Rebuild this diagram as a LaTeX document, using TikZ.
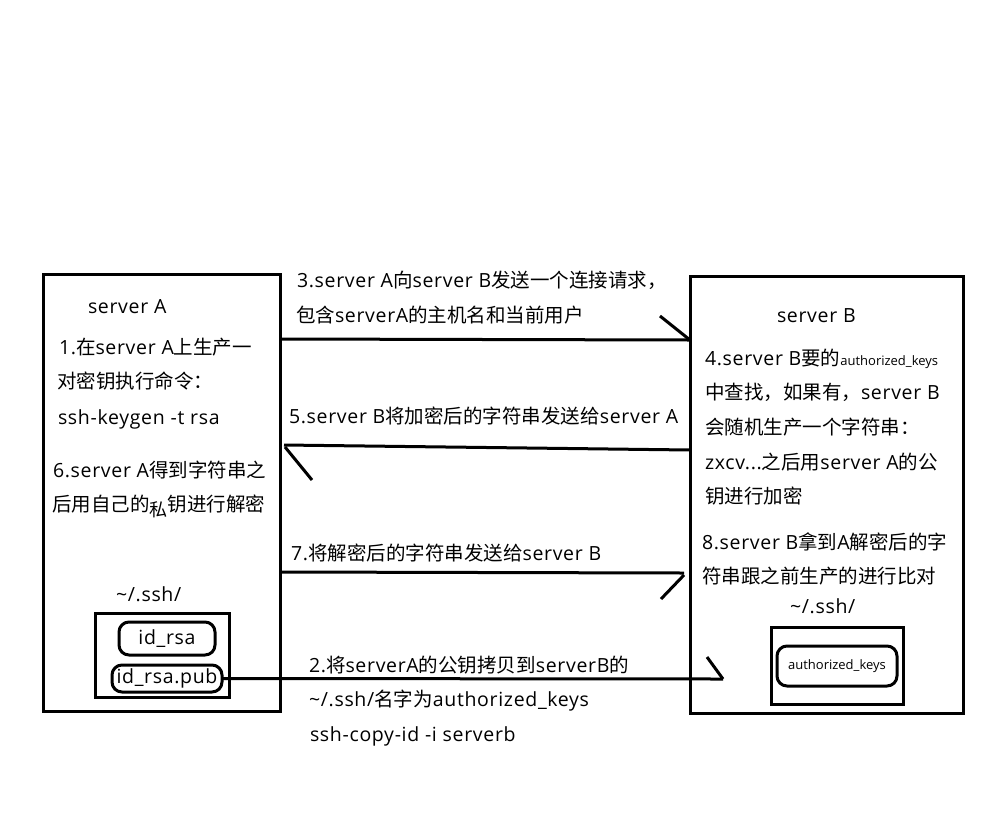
\documentclass[tikz,border=0pt]{standalone}
\usepackage{fontspec}
\setmainfont[LetterSpace=3.5]{Open Sans}
\newfontfamily\cjkf{Noto Sans CJK SC}
\newfontfamily\latf[LetterSpace=3.5]{Open Sans}
\newfontfamily\smallf{Open Sans}
\XeTeXinterchartokenstate=1
\newXeTeXintercharclass\cjkclass
\newcount\cjkcc
\cjkcc="3000
\loop \XeTeXcharclass\cjkcc=\cjkclass \advance\cjkcc by 1 \ifnum\cjkcc<"A000 \repeat
\cjkcc="FF00
\loop \XeTeXcharclass\cjkcc=\cjkclass \advance\cjkcc by 1 \ifnum\cjkcc<"FFF0 \repeat
\XeTeXinterchartoks 0 \cjkclass = {\cjkf}
\XeTeXinterchartoks 4095 \cjkclass = {\cjkf}
\XeTeXinterchartoks \cjkclass 0 = {\latf}
\XeTeXinterchartoks \cjkclass 4095 = {\latf}
\begin{document}
\begin{tikzpicture}[x=1pt,y=-1pt,
  txt/.style={anchor=base west, inner sep=0pt, outer sep=0pt, font=\fontsize{19.5}{23}\selectfont},
  box/.style={draw, line width=3pt, inner sep=0pt, outer sep=0pt, anchor=north west},
  rbox/.style={box, rounded corners=10pt},
  conn/.style={line width=3pt},
  smalltxt/.style={font=\smallf\fontsize{13}{15}\selectfont}]
\fill[white] (0,0) rectangle (1000,814);
\useasboundingbox (0,0) rectangle (1000,814);

% main boxes
\node[box, minimum width=237pt, minimum height=437pt] (A) at (43,274) {};
\node[box, minimum width=273pt, minimum height=437pt] (B) at (690,276) {};

% inner boxes of server A
\node[box, minimum width=134pt, minimum height=84pt] (sshA) at (95,613) {};
\node[rbox, minimum width=96pt, minimum height=33pt, font=\fontsize{19.5}{23}\selectfont] (idrsa) at (119,622) {id\_rsa};
\node[rbox, minimum width=110pt, minimum height=27pt, font=\fontsize{19.5}{23}\selectfont] (pub) at (112,665) {id\_rsa.pub};

% inner boxes of server B
\node[box, minimum width=132pt, minimum height=77pt] (sshB) at (771,627) {};
\node[rbox, minimum width=120pt, minimum height=40pt, smalltxt] (ak) at (777,646) {authorized\_keys};

% texts in server A
\node[txt] (tA) at (88,313) {server A};
\node[txt] (t1a) at (59,354) {1.在server A上生产一};
\node[txt] (t1b) at (57,388) {对密钥执行命令：};
\node[txt] (t1c) at (58,424) {ssh-keygen -t rsa};
\node[txt] (t6a) at (53,477) {6.server A得到字符串之};
\node[txt] (t6b) at (52,511) {后用自己的\raisebox{-5pt}{\fontsize{18}{20}\selectfont 私}钥进行解密};
\node[txt] (sA) at (116,601) {\textasciitilde/.ssh/};

% texts in server B
\node[txt] (tB) at (777,322) {server B};
\node[txt] (t4a) at (705,365) {4.server B要的{\smallf\fontsize{13}{15}\selectfont authorized\_keys}};
\node[txt] (t4b) at (705,399) {中查找，如果有，server B};
\node[txt] (t4c) at (705,434) {会随机生产一个字符串：};
\node[txt] (t4d) at (705,469) {zxcv...之后用server A的公};
\node[txt] (t4e) at (705,503) {钥进行加密};
\node[txt] (t8a) at (702,549) {8.server B拿到A解密后的字};
\node[txt] (t8b) at (702,583) {符串跟之前生产的进行比对};
\node[txt] (sB) at (790,613) {\textasciitilde/.ssh/};

% texts between
\node[txt] (t3a) at (297,287) {3.server A向server B发送一个连接请求，};
\node[txt] (t3b) at (296,322) {包含serverA的主机名和当前用户};
\node[txt] (t5) at (289,423) {5.server B将加密后的字符串发送给server A};
\node[txt] (t7) at (291,560) {7.将解密后的字符串发送给server B};
\node[txt] (t2a) at (309,672) {2.将serverA的公钥拷贝到serverB的};
\node[txt] (t2b) at (309,706) {\textasciitilde/.ssh/名字为authorized\_keys};
\node[txt] (t2c) at (310,741) {ssh-copy-id -i serverb};

% connector end points
\coordinate (a3s) at (A.east |- 0,339);
\coordinate (a3e) at (B.west |- 0,340);
\coordinate (a5s) at (B.west |- 0,450);
\coordinate (a5e) at (284,445);
\coordinate (a7s) at (A.east |- 0,572);
\coordinate (a7e) at (684,573);
\coordinate (a2e) at (723,679);

% arrow 3
\draw[conn] (a3s) -- (a3e);
\draw[conn] (a3e) -- ++(-30,-24);
% arrow 5
\draw[conn] (a5s) -- (a5e);
\draw[conn] (a5e) ++(1,2) -- ++(27,33);
% arrow 7
\draw[conn] (a7s) -- (a7e);
\draw[conn] (a7e) ++(0,2) -- ++(-23,24);
% arrow 2
\draw[conn] (pub.east) -- (a2e);
\draw[conn] (a2e) -- ++(-16,-22);
\end{tikzpicture}
\end{document}
